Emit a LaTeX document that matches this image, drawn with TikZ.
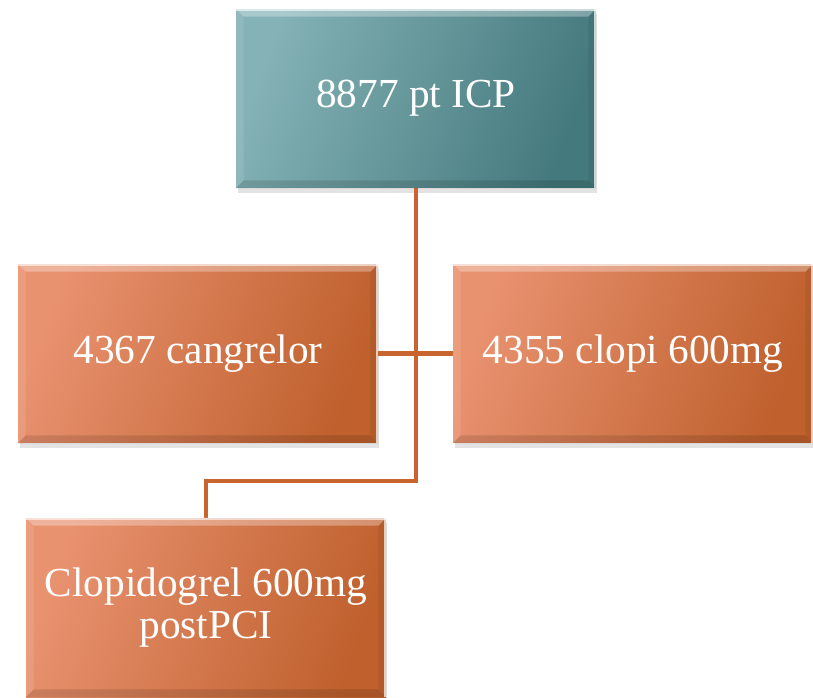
\documentclass[tikz,border=0pt]{standalone}
\usepackage{fontspec}
\setmainfont{Liberation Serif}
\usetikzlibrary{shadows}
\definecolor{tealA}{HTML}{84B2B6}
\definecolor{tealB}{HTML}{44797D}
\definecolor{orgA}{HTML}{E99270}
\definecolor{orgB}{HTML}{BF602D}
\definecolor{wire}{HTML}{C8642E}
\tikzset{
  box/.style={rectangle, minimum width=7.2cm, minimum height=3.58cm, inner sep=0pt,
    text=white, align=center, font=\fontsize{23.5}{23.5}\selectfont,
    drop shadow={opacity=0.22, shadow xshift=0.03cm, shadow yshift=-0.1cm}},
  tealbox/.style={box, left color=tealA, right color=tealB, shading angle=70},
  orgbox/.style={box, left color=orgA, right color=orgB, shading angle=70},
  wireline/.style={draw=wire, line width=2.6pt}
}
% bevelled rim for a named box
\newcommand{\bevelrim}[1]{%
  \fill[white, opacity=0.3] (#1.north west) -- (#1.north east) -- ([shift={(-0.16cm,-0.16cm)}]#1.north east) -- ([shift={(0.16cm,-0.16cm)}]#1.north west) -- cycle;
  \fill[white, opacity=0.1] (#1.north west) -- ([shift={(0.16cm,-0.16cm)}]#1.north west) -- ([shift={(0.16cm,0.16cm)}]#1.south west) -- (#1.south west) -- cycle;
  \fill[black, opacity=0.06] (#1.north east) -- ([shift={(-0.16cm,-0.16cm)}]#1.north east) -- ([shift={(-0.16cm,0.16cm)}]#1.south east) -- (#1.south east) -- cycle;
  \fill[black, opacity=0.12] (#1.south west) -- ([shift={(0.16cm,0.16cm)}]#1.south west) -- ([shift={(-0.16cm,0.16cm)}]#1.south east) -- (#1.south east) -- cycle;
  \draw[white, opacity=0.7, line width=0.8pt] ([xshift=-0.03cm]#1.north east) -- ([xshift=-0.03cm]#1.south east);
  \draw[white, opacity=0.6, line width=0.8pt] ([yshift=-0.03cm]#1.north west) -- ([yshift=-0.03cm]#1.north east);
}
\begin{document}
\begin{tikzpicture}[x=0.02cm, y=-0.02cm]
  \useasboundingbox (0,0) rectangle (813,697);
  % junction where the trunk turns towards the lower box
  \coordinate (jn) at (416,481);
  % boxes
  \node[tealbox] (root) at (416,98.5) {8877 pt ICP};
  \node[orgbox] (cang) at (198,353.5) {4367 cangrelor};
  \node[orgbox] (clopi) at (633,353.5) {4355 clopi 600mg};
  \node[orgbox] (post) at (206,607.5) {Clopidogrel 600mg\\postPCI};
  % connectors
  \draw[wireline] (cang.east) -- (clopi.west);
  \draw[wireline] (root.south) -- (jn) -| (post.north);
  \bevelrim{root}
  \bevelrim{cang}
  \bevelrim{clopi}
  \bevelrim{post}
\end{tikzpicture}
\end{document}
